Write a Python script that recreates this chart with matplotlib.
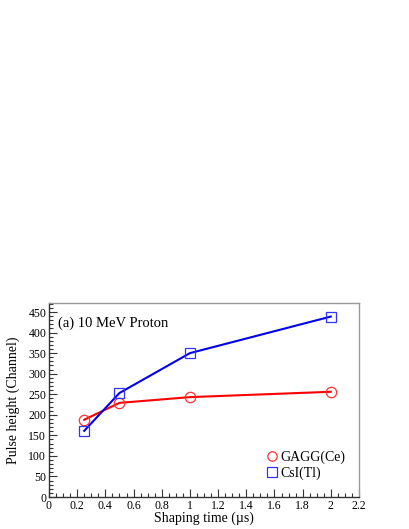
import matplotlib
matplotlib.use("Agg")
import matplotlib.pyplot as plt
from matplotlib.ticker import MultipleLocator

shaping_time = [0.25, 0.5, 1.0, 2.0]
gagg = [188, 229, 243, 256]
csi = [161, 253, 350, 439]
x_ticks = [0, 0.2, 0.4, 0.6, 0.8, 1, 1.2, 1.4, 1.6, 1.8, 2, 2.2]
x_tick_labels = ["0", "0.2", "0.4", "0.6", "0.8", "1", "1.2", "1.4", "1.6", "1.8", "2", "2.2"]

plt.rcParams['font.family'] = ['Liberation Serif', 'DejaVu Serif']

fig = plt.figure(figsize=(4.09, 5.29), dpi=100)
ax = fig.add_axes([49/409, 32/529, 310/409, 194/529])

ax.plot(shaping_time, gagg, color='#ff0000', lw=1.5, marker='o', ms=7.5,
        mfc='none', mec='#ff3333', mew=0.9, label='GAGG(Ce)')
ax.plot(shaping_time, csi, color='#0000ee', lw=1.5, marker='s', ms=7.5,
        mfc='none', mec='#3333ff', mew=0.9, label='CsI(Tl)')

ax.set_xlim(0, 2.2)
ax.set_ylim(0, 472)
ax.set_xticks(x_ticks)
ax.set_xticklabels(x_tick_labels)
ax.xaxis.set_minor_locator(MultipleLocator(0.05))
ax.yaxis.set_major_locator(MultipleLocator(50))
ax.yaxis.set_minor_locator(MultipleLocator(10))
ax.tick_params(which='both', direction='in', top=False, right=False,
               labelsize=8.5, pad=2, color='#333333')
ax.tick_params(which='major', length=6, width=0.8)
ax.tick_params(which='minor', length=3, width=0.8)

for s in ax.spines.values():
    s.set_color('#999999')
    s.set_linewidth(1.0)
ax.spines['left'].set_color('#333333')
ax.spines['bottom'].set_color('#333333')

ax.set_xlabel('Shaping time (µs)', fontsize=10, labelpad=0)
ax.set_ylabel('Pulse height (Channel)', fontsize=10, labelpad=6)

ax.text(0.03, 0.895, '(a) 10 MeV Proton', transform=ax.transAxes,
        fontsize=10.5, va='center', ha='left')

ax.legend(loc='lower right', bbox_to_anchor=(0.995, 0.025), frameon=False,
          fontsize=10, handlelength=0.8, handletextpad=0.2, labelspacing=0.15,
          markerscale=0.9)
leg = ax.get_legend()
for h in leg.legend_handles:
    h.set_linestyle('none')

fig.savefig('out.png', dpi=100)
